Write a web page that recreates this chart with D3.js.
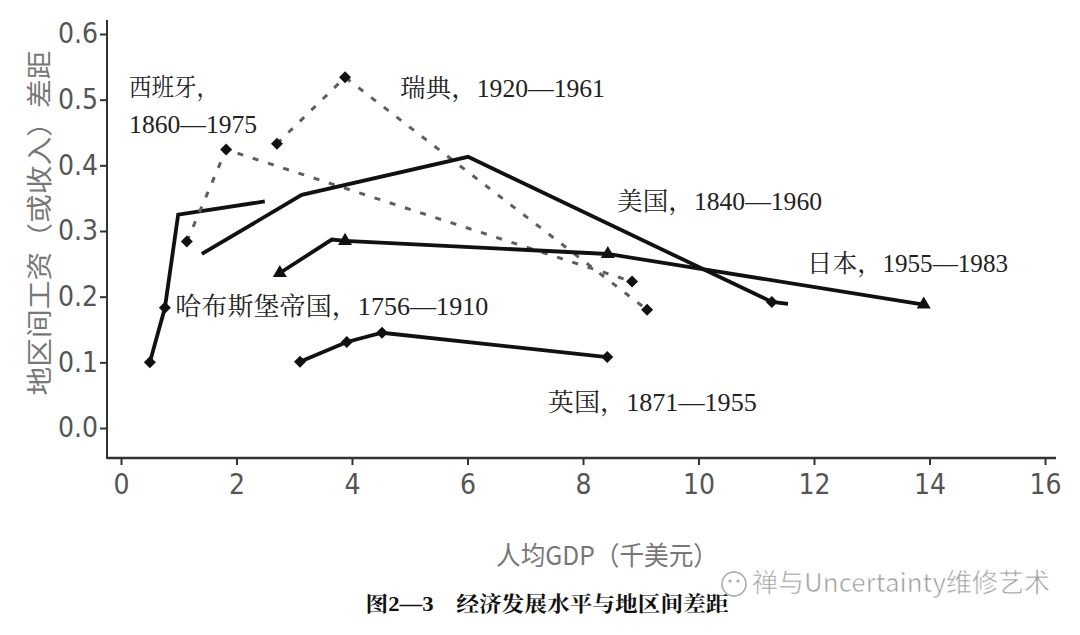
<!DOCTYPE html>
<html>
<head>
<meta charset="utf-8">
<script src="https://cdn.jsdelivr.net/npm/d3@7"></script>
<style>
  body { margin: 0; background: #fff; }
  svg { display: block; }
</style>
</head>
<body>
<div id="chart"></div>
<script>
// data (GDP per head in thousand $, regional gap)
const habsburgX = [0.50, 0.76, 0.99, 2.49];
const habsburgY = [0.100, 0.183, 0.325, 0.345];
const habsburgMark = [1, 1, 0, 0];

const spainX = [1.14, 1.82, 8.85];
const spainY = [0.284, 0.424, 0.223];
const spainMark = [1, 1, 1];

const swedenX = [2.70, 3.88, 9.11];
const swedenY = [0.433, 0.534, 0.180];
const swedenMark = [1, 1, 1];

const usX = [1.40, 3.13, 6.01, 11.27, 11.55];
const usY = [0.265, 0.355, 0.413, 0.192, 0.189];
const usMark = [0, 0, 0, 1, 0];

const japanX = [2.75, 3.65, 3.88, 8.43, 13.90];
const japanY = [0.236, 0.287, 0.285, 0.265, 0.188];
const japanMark = [1, 0, 1, 1, 1];

const ukX = [3.10, 3.91, 4.52, 8.42];
const ukY = [0.101, 0.131, 0.145, 0.108];
const ukMark = [1, 1, 1, 1];

const xTicks = [0, 2, 4, 6, 8, 10, 12, 14, 16];
const yTicks = [0.0, 0.1, 0.2, 0.3, 0.4, 0.5, 0.6];

const labelText = ["西班牙，", "1860—1975", "瑞典，1920—1961", "美国，1840—1960",
  "日本，1955—1983", "哈布斯堡帝国，1756—1910", "英国，1871—1955"];
const labelX = [0.14, 0.14, 4.83, 8.59, 11.88, 0.94, 7.39];
const labelY = [0.520, 0.463, 0.518, 0.345, 0.252, 0.186, 0.040];
const labelW = [90, 128, 205, 205, 201, 313, 209];

const xTitle = "人均GDP（千美元）";
const yTitle = "地区间工资（或收入）差距";
const caption = "图2—3　经济发展水平与地区间差距";
const watermark = "禅与Uncertainty维修艺术";

function zipSeries(xs, ys, ms) {
  return xs.map((x, i) => ({ x: x, y: ys[i], m: ms[i] }));
}

const series = [
  { pts: zipSeries(habsburgX, habsburgY, habsburgMark), dashed: false, sym: "diamond" },
  { pts: zipSeries(spainX, spainY, spainMark), dashed: true, sym: "diamond" },
  { pts: zipSeries(swedenX, swedenY, swedenMark), dashed: true, sym: "diamond" },
  { pts: zipSeries(usX, usY, usMark), dashed: false, sym: "diamond" },
  { pts: zipSeries(japanX, japanY, japanMark), dashed: false, sym: "triangle" },
  { pts: zipSeries(ukX, ukY, ukMark), dashed: false, sym: "diamond" }
];

const width = 1080, height = 635;
const svg = d3.select("#chart").append("svg")
  .attr("width", width).attr("height", height);
svg.append("rect").attr("width", width).attr("height", height).attr("fill", "#fff");

const x = d3.scaleLinear().domain([0, 16]).range([121, 1045]);
const y = d3.scaleLinear().domain([0, 0.6]).range([428, 34]);

const axisX = 107, axisY = 458;
const tickFont = "'Liberation Sans Narrow', 'DejaVu Sans Condensed', 'Liberation Sans', sans-serif";
const cjkSerif = "'Liberation Serif', 'Noto Serif CJK SC', 'Noto Sans CJK SC', serif";
const cjkSans = "'Noto Sans CJK SC', 'Noto Sans', sans-serif";

// axis lines run past the data range like in the print
svg.append("line").attr("x1", axisX).attr("x2", axisX).attr("y1", 20).attr("y2", axisY + 1)
  .attr("stroke", "#333").attr("stroke-width", 2);
svg.append("line").attr("x1", axisX).attr("x2", 1056).attr("y1", axisY).attr("y2", axisY)
  .attr("stroke", "#333").attr("stroke-width", 2.5);

const gy = svg.append("g").attr("transform", `translate(${axisX},0)`)
  .call(d3.axisLeft(y).tickValues(yTicks).tickFormat(d3.format(".1f"))
    .tickSize(7).tickSizeOuter(0).tickPadding(2));
gy.select(".domain").remove();
gy.selectAll(".tick line").attr("stroke", "#333").attr("stroke-width", 2);
gy.selectAll(".tick text").attr("fill", "#555").style("font-family", tickFont).style("font-size", "28px");

const gx = svg.append("g").attr("transform", `translate(0,${axisY})`)
  .call(d3.axisBottom(x).tickValues(xTicks).tickSize(7).tickSizeOuter(0).tickPadding(9));
gx.select(".domain").remove();
gx.selectAll(".tick line").attr("stroke", "#333").attr("stroke-width", 2);
gx.selectAll(".tick text").attr("fill", "#555").style("font-family", tickFont).style("font-size", "28px");

// lines
const line = d3.line().x(d => x(d.x)).y(d => y(d.y));
series.forEach(s => {
  svg.append("path").datum(s.pts)
    .attr("d", line)
    .attr("fill", "none")
    .attr("stroke", s.dashed ? "#5e5e5e" : "#111")
    .attr("stroke-width", s.dashed ? 3 : 3.8)
    .attr("stroke-dasharray", s.dashed ? "6,10" : null)
    .attr("stroke-linejoin", "miter");
});

// markers: squares turned 45 degrees read like the printed diamonds
series.forEach(s => {
  const tri = s.sym === "triangle";
  svg.selectAll(null).data(s.pts.filter(p => p.m))
    .enter().append("path")
    .attr("d", d3.symbol().type(tri ? d3.symbolTriangle : d3.symbolSquare).size(tri ? 85 : 72))
    .attr("transform", d => `translate(${x(d.x)},${y(d.y)})` + (tri ? "" : " rotate(45)"))
    .attr("fill", "#111");
});

// series labels
svg.selectAll(".lab").data(labelText).enter().append("text")
  .attr("class", "lab")
  .attr("x", (d, i) => x(labelX[i]))
  .attr("y", (d, i) => y(labelY[i]))
  .attr("dy", "0.36em")
  .attr("textLength", (d, i) => labelW[i])
  .attr("lengthAdjust", "spacingAndGlyphs")
  .style("font-family", cjkSerif)
  .style("font-size", "25px")
  .attr("fill", "#222")
  .text(d => d);

// axis titles
svg.append("text")
  .attr("transform", "translate(40,223) rotate(-90)")
  .attr("text-anchor", "middle").attr("dy", "0.36em")
  .attr("textLength", 345).attr("lengthAdjust", "spacingAndGlyphs")
  .style("font-family", cjkSans).style("font-size", "26px")
  .attr("fill", "#777").text(yTitle);

svg.append("text")
  .attr("x", 607).attr("y", 556)
  .attr("text-anchor", "middle").attr("dy", "0.36em")
  .attr("textLength", 222).attr("lengthAdjust", "spacingAndGlyphs")
  .style("font-family", cjkSans).style("font-size", "26px")
  .attr("fill", "#777").text(xTitle);

// caption
svg.append("text")
  .attr("x", 547).attr("y", 603)
  .attr("text-anchor", "middle").attr("dy", "0.36em")
  .attr("textLength", 363).attr("lengthAdjust", "spacingAndGlyphs")
  .style("font-family", cjkSerif).style("font-size", "21px").style("font-weight", "bold")
  .attr("fill", "#111").text(caption);

// watermark
const wm = svg.append("g").attr("opacity", 0.85);
wm.append("circle").attr("cx", 734).attr("cy", 584).attr("r", 12)
  .attr("fill", "none").attr("stroke", "#999").attr("stroke-width", 1.5);
wm.append("circle").attr("cx", 730).attr("cy", 581).attr("r", 1.6).attr("fill", "#999");
wm.append("circle").attr("cx", 738).attr("cy", 581).attr("r", 1.6).attr("fill", "#999");
wm.append("text")
  .attr("x", 752).attr("y", 583).attr("dy", "0.36em")
  .attr("textLength", 298).attr("lengthAdjust", "spacingAndGlyphs")
  .style("font-family", cjkSans).style("font-size", "26px")
  .attr("fill", "#8c8c8c").attr("stroke", "#fff").attr("stroke-width", 0.6)
  .text(watermark);
</script>
</body>
</html>
